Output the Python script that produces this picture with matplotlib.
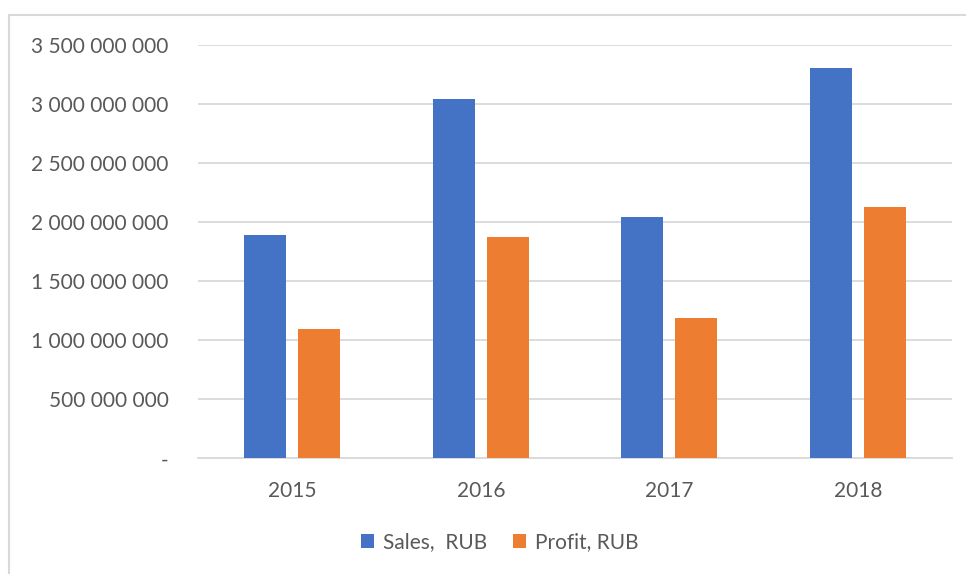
import matplotlib.pyplot as plt
import numpy as np
from matplotlib.patches import Rectangle
from matplotlib.ticker import FuncFormatter

years = ['2015', '2016', '2017', '2018']
sales = [1892000000, 3039000000, 2042000000, 3299000000]
profit = [1093000000, 1873000000, 1186000000, 2130000000]

plt.rcParams['font.family'] = ['Lato', 'DejaVu Sans']

fig = plt.figure(figsize=(9.66, 5.74), dpi=100)
# light frame around the chart (only left/top visible in the reference)
fig.patches.append(Rectangle((9 / 966, -0.1), 1.2, 1 - 15 / 574 + 0.1,
                             transform=fig.transFigure, fill=False,
                             edgecolor='#d9d9d9', linewidth=1.5))

ax = fig.add_axes([198 / 966, 1 - 458.3 / 574, (952 - 198) / 966, (458.3 - 44.7) / 574])

x = np.arange(len(years))
w = 0.223
off = 0.143
ax.bar(x - off, sales, w, color='#4472c4', label='Sales,  RUB', zorder=3)
ax.bar(x + off, profit, w, color='#ed7d31', label='Profit, RUB', zorder=3)

ax.set_xlim(-0.5, 3.5)
ax.set_ylim(0, 3500000000)
ax.set_yticks(np.arange(0, 3500000001, 500000000))


def fmt(v, pos):
    if v == 0:
        return '-'
    return '{:,.0f}'.format(v).replace(',', ' ')


ax.yaxis.set_major_formatter(FuncFormatter(fmt))
ax.set_xticks(x)
ax.set_xticklabels(years)
ax.grid(axis='y', color='#d9d9d9', linewidth=1.3, zorder=0)
for s in ['top', 'right', 'left']:
    ax.spines[s].set_visible(False)
ax.spines['bottom'].set_color('#d9d9d9')
ax.spines['bottom'].set_linewidth(1.3)
ax.tick_params(length=0, labelsize=15, labelcolor='#595959')
ax.tick_params(axis='y', pad=21)
ax.tick_params(axis='x', pad=16)

fig.legend(loc='center', bbox_to_anchor=(0.517, 1 - 542 / 574), ncol=2, frameon=False,
           fontsize=15, labelcolor='#595959', handlelength=0.65, handleheight=0.65,
           handletextpad=0.4, columnspacing=1.25)

fig.savefig('out.png', dpi=100)
